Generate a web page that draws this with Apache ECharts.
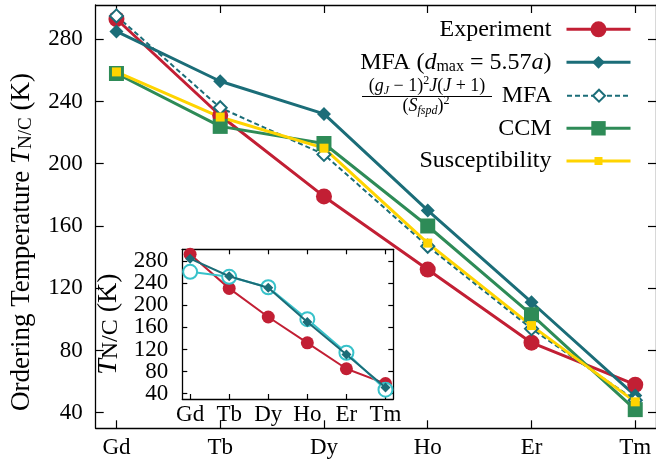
<!DOCTYPE html>
<html>
<head>
<meta charset="utf-8">
<script src="https://cdn.jsdelivr.net/npm/echarts@6/dist/echarts.min.js"></script>
<style>
  html, body { margin: 0; padding: 0; background: #fff; }
  #chart { width: 656px; height: 463px; }
</style>
</head>
<body>
<div id="chart"></div>
<script>
// Rare-earth series and ordering temperatures (K)
const elements = ['Gd', 'Tb', 'Dy', 'Ho', 'Er', 'Tm'];
const experiment = [293, 231, 179, 132, 85, 58];
const mfa557 = [285, 253, 232, 170, 111, 51];
const mfaScaled = [295, 236, 206, 147, 94, 48];
const ccm = [258, 224, 213, 160, 103, 42];
const susceptibility = [259, 230, 210, 149, 96, 47];
const mfa320 = [261, 252, 233, 175, 114, 47];
const elementTicks = [0, 1, 2, 3, 4, 5];
const tempTicks = [40, 80, 120, 160, 200, 240, 280];
// the inset's tick labels are packed tightly, so they are split over two label rows
const insetTicksA = [40, 120, 200, 280];
const insetTicksB = [80, 160, 240];

const FONT = 'Liberation Serif';
const RED = '#c21f34';
const TEAL = '#1b6d78';
const GREEN = '#2e8b57';
const GOLD = '#ffd400';
const CYAN = '#38c2ca';

const pts = arr => arr.map((v, i) => [i, v]);
const ts = (size, extra) => Object.assign({ fontFamily: FONT, fontSize: size, color: '#000' }, extra || {});

// legend names -> displayed rich text
const legendText = {
  'Experiment': 'Experiment',
  'MFA 5.57a': 'MFA ({i|d}{s|max} = 5.57{i|a})',
  'MFA de Gennes': 'MFA',
  'CCM': 'CCM',
  'Susceptibility': 'Susceptibility',
  'r3.20a': '3.20{i|a}',
  'r5.57a': '5.57{i|a}'
};

function legendRow(name, centerY, iconH, right, iconW, size, gap, lineW) {
  return {
    show: true, orient: 'vertical', align: 'right', padding: 0,
    right: right, top: centerY - 12,
    itemWidth: iconW, itemHeight: iconH, selectedMode: false,
    data: [name],
    lineStyle: { width: lineW },
    formatter: n => legendText[n],
    textStyle: ts(size, {
      lineHeight: 24, padding: [0, gap, 0, 0],
      rich: {
        i: ts(size, { fontStyle: 'italic', lineHeight: 24 }),
        s: ts(16, { lineHeight: 8, verticalAlign: 'bottom' })
      }
    })
  };
}

function xAxisCfg(grid, pos, labels, tickLen, z, labelSize, margin) {
  return {
    type: 'value', gridIndex: grid, position: pos, min: -0.2, max: 5.2, z: z,
    axisLine: { show: true, onZero: false, lineStyle: { color: '#000', width: 1.3 } },
    axisTick: { show: true, inside: true, length: tickLen, customValues: elementTicks, lineStyle: { color: '#000', width: 1.2 } },
    axisLabel: { show: labels, customValues: elementTicks, formatter: v => elements[v], margin: margin,
      hideOverlap: false, showMinLabel: true, showMaxLabel: true,
      fontFamily: FONT, fontSize: labelSize, color: '#000' },
    splitLine: { show: false }
  };
}

function yAxisCfg(o) {
  const cfg = {
    type: 'value', gridIndex: o.grid, position: o.pos, min: 30, max: 302, z: o.z,
    axisLine: { show: o.line !== false, onZero: false, lineStyle: { color: '#000', width: 1.3 } },
    axisTick: { show: o.ticks !== false, inside: true, length: o.tickLen, customValues: tempTicks, lineStyle: { color: '#000', width: 1.2 } },
    axisLabel: { show: !!o.labels, customValues: o.labels || tempTicks, margin: o.margin,
      hideOverlap: false, showMinLabel: true, showMaxLabel: true,
      fontFamily: FONT, fontSize: 23, color: '#000' },
    splitLine: { show: false }
  };
  if (o.name) {
    cfg.name = o.name;
    cfg.nameLocation = 'middle';
    cfg.nameRotate = 90;
    cfg.nameGap = o.nameGap;
    cfg.nameTextStyle = ts(o.nameSize, {
      lineHeight: 28,
      rich: {
        t: ts(o.nameSize, { fontStyle: 'italic', lineHeight: 28 }),
        s: ts(o.subSize, { lineHeight: 8, verticalAlign: 'bottom' })
      }
    });
  }
  return cfg;
}

const chart = echarts.init(document.getElementById('chart'), null, { renderer: 'canvas' });

const fracRich = {
  i: { fontFamily: FONT, fontSize: 18, fontStyle: 'italic', lineHeight: 22 },
  sb: { fontFamily: FONT, fontSize: 12, fontStyle: 'italic', lineHeight: 8, verticalAlign: 'bottom' },
  sp: { fontFamily: FONT, fontSize: 12, lineHeight: 14, verticalAlign: 'top' }
};

const option = {
  animation: false,
  backgroundColor: '#fff',
  textStyle: { fontFamily: FONT },
  grid: [
    { left: 95.7, top: 5, width: 565.3, height: 423.3 },
    { left: 182.3, top: 249.3, width: 211, height: 149.7, show: true, backgroundColor: '#fff', borderWidth: 0, z: 10 }
  ],
  xAxis: [
    xAxisCfg(0, 'bottom', true, 8, 3, 23, 8),
    xAxisCfg(0, 'top', false, 8, 3, 23, 8),
    xAxisCfg(1, 'bottom', true, 5, 11, 23, 4),
    xAxisCfg(1, 'top', false, 5, 11, 23, 4)
  ],
  yAxis: [
    yAxisCfg({ grid: 0, pos: 'left', z: 3, tickLen: 8, margin: 13, labels: tempTicks }),
    yAxisCfg({ grid: 0, pos: 'right', z: 3, tickLen: 8, margin: 13 }),
    yAxisCfg({ grid: 1, pos: 'left', z: 11, tickLen: 5, margin: 14, labels: insetTicksA,
      name: '{t|T}{s|N/C} (K)', nameGap: 60, nameSize: 28, subSize: 24 }),
    yAxisCfg({ grid: 1, pos: 'right', z: 11, tickLen: 5, margin: 14 }),
    yAxisCfg({ grid: 1, pos: 'left', z: 11, tickLen: 5, margin: 14, labels: insetTicksB, line: false, ticks: false })
  ],
  legend: [
    legendRow('Experiment', 29.3, 20, 24, 64, 24, 10, 3),
    legendRow('MFA 5.57a', 62.3, 16, 24, 64, 24, 10, 3),
    legendRow('MFA de Gennes', 95.7, 15, 24, 64, 24, 10, 2),
    legendRow('CCM', 128.3, 18, 24, 64, 24, 10, 3),
    legendRow('Susceptibility', 161, 10, 24, 64, 24, 10, 3),
    legendRow('r3.20a', 359.3, 18, 331, 62, 23, 11, 2),
    legendRow('r5.57a', 383.3, 11, 331, 62, 23, 11, 2)
  ],
  graphic: [
    // main vertical axis title
    {
      type: 'text', x: 22, y: 242, rotation: Math.PI / 2, z: 20,
      style: {
        text: 'Ordering Temperature {t|T}{s|N/C} (K)',
        fontFamily: FONT, fontSize: 27, fill: '#000', align: 'center', verticalAlign: 'middle', lineHeight: 28,
        rich: {
          t: { fontFamily: FONT, fontSize: 27, fontStyle: 'italic', lineHeight: 28 },
          s: { fontFamily: FONT, fontSize: 19, lineHeight: 8, verticalAlign: 'bottom' }
        }
      }
    },
    // fraction in the third legend label
    {
      type: 'text', x: 427, y: 86, z: 20,
      style: {
        text: '({i|g}{sb|J} − 1){sp|2}{i|J}({i|J} + 1)',
        fontFamily: FONT, fontSize: 18, fill: '#000', align: 'center', verticalAlign: 'middle', lineHeight: 22,
        rich: fracRich
      }
    },
    { type: 'line', z: 20, shape: { x1: 362, y1: 96.5, x2: 492, y2: 96.5 }, style: { stroke: '#000', lineWidth: 1 } },
    {
      type: 'text', x: 426, y: 106, z: 20,
      style: {
        text: '({i|S}{sb|fspd}){sp|2}',
        fontFamily: FONT, fontSize: 18, fill: '#000', align: 'center', verticalAlign: 'middle', lineHeight: 22,
        rich: fracRich
      }
    }
  ],
  series: [
    { name: 'Experiment', type: 'line', xAxisIndex: 0, yAxisIndex: 0, data: pts(experiment),
      symbol: 'circle', symbolSize: 16, lineStyle: { color: RED, width: 3 }, itemStyle: { color: RED } },
    { name: 'MFA 5.57a', type: 'line', xAxisIndex: 0, yAxisIndex: 0, data: pts(mfa557),
      symbol: 'diamond', symbolSize: 14, lineStyle: { color: TEAL, width: 3 }, itemStyle: { color: TEAL } },
    { name: 'MFA de Gennes', type: 'line', xAxisIndex: 0, yAxisIndex: 0, data: pts(mfaScaled),
      symbol: 'emptyDiamond', symbolSize: 13, lineStyle: { color: TEAL, width: 2, type: [5, 3] },
      itemStyle: { color: TEAL, borderColor: TEAL, borderWidth: 1.6 } },
    { name: 'CCM', type: 'line', xAxisIndex: 0, yAxisIndex: 0, data: pts(ccm),
      symbol: 'rect', symbolSize: 15, lineStyle: { color: GREEN, width: 3 }, itemStyle: { color: GREEN } },
    { name: 'Susceptibility', type: 'line', xAxisIndex: 0, yAxisIndex: 0, data: pts(susceptibility),
      symbol: 'rect', symbolSize: 9, lineStyle: { color: GOLD, width: 3 }, itemStyle: { color: GOLD } },

    { name: 'Experiment', type: 'line', xAxisIndex: 2, yAxisIndex: 2, data: pts(experiment), z: 12,
      symbol: 'circle', symbolSize: 13, lineStyle: { color: RED, width: 2 }, itemStyle: { color: RED } },
    { name: 'r3.20a', type: 'line', xAxisIndex: 2, yAxisIndex: 2, data: pts(mfa320), z: 13,
      symbol: 'emptyCircle', symbolSize: 14, lineStyle: { color: CYAN, width: 2 },
      itemStyle: { color: CYAN, borderColor: CYAN, borderWidth: 2 } },
    { name: 'r5.57a', type: 'line', xAxisIndex: 2, yAxisIndex: 2, data: pts(mfa557), z: 14,
      symbol: 'diamond', symbolSize: 10, lineStyle: { color: TEAL, width: 2 }, itemStyle: { color: TEAL } }
  ]
};

chart.setOption(option);
</script>
</body>
</html>
